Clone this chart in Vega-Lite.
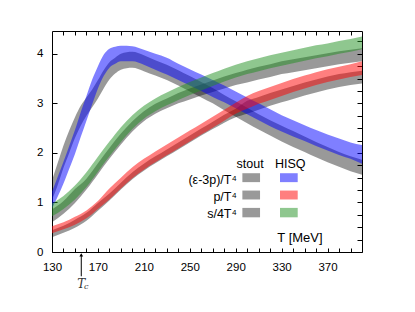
{
"$schema":"https://vega.github.io/schema/vega-lite/v6.json",
"width":310,"height":221,
"autosize":{"type":"none"},
"padding":{"left":52,"top":31,"right":53,"bottom":60},
"background":"white",
"config":{"view":{"stroke":"#000","strokeWidth":1},"font":"Liberation Sans",
"axis":{"domain":false,"grid":false,"tickColor":"#000","tickWidth":1,"labelColor":"#000","labelFont":"Liberation Sans","labelFontSize":11.5,"title":null}},
"datasets":{
"bands":[
{"g":"stout","q":"e3p","T":130,"lo":1.05,"hi":1.45},{"g":"stout","q":"e3p","T":135,"lo":1.35,"hi":1.8},{"g":"stout","q":"e3p","T":140,"lo":1.7,"hi":2.15},{"g":"stout","q":"e3p","T":145,"lo":2.0,"hi":2.45},{"g":"stout","q":"e3p","T":150,"lo":2.3,"hi":2.72},{"g":"stout","q":"e3p","T":155,"lo":2.55,"hi":2.95},{"g":"stout","q":"e3p","T":160,"lo":2.75,"hi":3.12},{"g":"stout","q":"e3p","T":165,"lo":2.92,"hi":3.28},{"g":"stout","q":"e3p","T":170,"lo":3.1,"hi":3.47},{"g":"stout","q":"e3p","T":175,"lo":3.3,"hi":3.67},{"g":"stout","q":"e3p","T":180,"lo":3.48,"hi":3.83},{"g":"stout","q":"e3p","T":185,"lo":3.6,"hi":3.92},{"g":"stout","q":"e3p","T":190,"lo":3.68,"hi":4.0},{"g":"stout","q":"e3p","T":200,"lo":3.72,"hi":4.04},{"g":"stout","q":"e3p","T":210,"lo":3.65,"hi":3.97},{"g":"stout","q":"e3p","T":220,"lo":3.56,"hi":3.87},{"g":"stout","q":"e3p","T":230,"lo":3.47,"hi":3.78},{"g":"stout","q":"e3p","T":240,"lo":3.36,"hi":3.67},{"g":"stout","q":"e3p","T":250,"lo":3.24,"hi":3.55},{"g":"stout","q":"e3p","T":260,"lo":3.12,"hi":3.43},{"g":"stout","q":"e3p","T":270,"lo":3.0,"hi":3.31},{"g":"stout","q":"e3p","T":280,"lo":2.86,"hi":3.17},{"g":"stout","q":"e3p","T":290,"lo":2.73,"hi":3.04},{"g":"stout","q":"e3p","T":300,"lo":2.6,"hi":2.91},{"g":"stout","q":"e3p","T":310,"lo":2.47,"hi":2.78},{"g":"stout","q":"e3p","T":320,"lo":2.35,"hi":2.66},{"g":"stout","q":"e3p","T":330,"lo":2.23,"hi":2.55},{"g":"stout","q":"e3p","T":340,"lo":2.12,"hi":2.44},{"g":"stout","q":"e3p","T":350,"lo":2.02,"hi":2.33},{"g":"stout","q":"e3p","T":360,"lo":1.91,"hi":2.22},{"g":"stout","q":"e3p","T":370,"lo":1.81,"hi":2.12},{"g":"stout","q":"e3p","T":380,"lo":1.72,"hi":2.02},{"g":"stout","q":"e3p","T":390,"lo":1.63,"hi":1.93},{"g":"stout","q":"e3p","T":400,"lo":1.56,"hi":1.86},
{"g":"stout","q":"p","T":130,"lo":0.30,"hi":0.44},{"g":"stout","q":"p","T":140,"lo":0.39,"hi":0.53},{"g":"stout","q":"p","T":150,"lo":0.49,"hi":0.65},{"g":"stout","q":"p","T":160,"lo":0.63,"hi":0.79},{"g":"stout","q":"p","T":170,"lo":0.83,"hi":0.99},{"g":"stout","q":"p","T":180,"lo":1.04,"hi":1.18},{"g":"stout","q":"p","T":190,"lo":1.26,"hi":1.40},{"g":"stout","q":"p","T":200,"lo":1.47,"hi":1.61},{"g":"stout","q":"p","T":210,"lo":1.64,"hi":1.78},{"g":"stout","q":"p","T":220,"lo":1.79,"hi":1.93},{"g":"stout","q":"p","T":230,"lo":1.93,"hi":2.07},{"g":"stout","q":"p","T":240,"lo":2.07,"hi":2.21},{"g":"stout","q":"p","T":250,"lo":2.21,"hi":2.35},{"g":"stout","q":"p","T":260,"lo":2.35,"hi":2.49},{"g":"stout","q":"p","T":270,"lo":2.48,"hi":2.63},{"g":"stout","q":"p","T":280,"lo":2.61,"hi":2.77},{"g":"stout","q":"p","T":290,"lo":2.72,"hi":2.89},{"g":"stout","q":"p","T":300,"lo":2.79,"hi":3.05},{"g":"stout","q":"p","T":310,"lo":2.87,"hi":3.13},{"g":"stout","q":"p","T":320,"lo":2.95,"hi":3.21},{"g":"stout","q":"p","T":330,"lo":3.02,"hi":3.28},{"g":"stout","q":"p","T":340,"lo":3.09,"hi":3.35},{"g":"stout","q":"p","T":350,"lo":3.16,"hi":3.42},{"g":"stout","q":"p","T":360,"lo":3.22,"hi":3.48},{"g":"stout","q":"p","T":370,"lo":3.28,"hi":3.54},{"g":"stout","q":"p","T":380,"lo":3.33,"hi":3.59},{"g":"stout","q":"p","T":390,"lo":3.37,"hi":3.63},{"g":"stout","q":"p","T":400,"lo":3.40,"hi":3.66},
{"g":"stout","q":"s","T":130,"lo":0.60,"hi":0.86},{"g":"stout","q":"s","T":140,"lo":0.77,"hi":1.03},{"g":"stout","q":"s","T":150,"lo":0.99,"hi":1.27},{"g":"stout","q":"s","T":160,"lo":1.26,"hi":1.48},{"g":"stout","q":"s","T":170,"lo":1.57,"hi":1.79},{"g":"stout","q":"s","T":180,"lo":1.88,"hi":2.10},{"g":"stout","q":"s","T":190,"lo":2.17,"hi":2.39},{"g":"stout","q":"s","T":200,"lo":2.43,"hi":2.64},{"g":"stout","q":"s","T":210,"lo":2.64,"hi":2.84},{"g":"stout","q":"s","T":220,"lo":2.79,"hi":2.99},{"g":"stout","q":"s","T":230,"lo":2.90,"hi":3.10},{"g":"stout","q":"s","T":240,"lo":3.00,"hi":3.21},{"g":"stout","q":"s","T":250,"lo":3.08,"hi":3.30},{"g":"stout","q":"s","T":260,"lo":3.16,"hi":3.38},{"g":"stout","q":"s","T":270,"lo":3.23,"hi":3.46},{"g":"stout","q":"s","T":280,"lo":3.30,"hi":3.54},{"g":"stout","q":"s","T":290,"lo":3.37,"hi":3.61},{"g":"stout","q":"s","T":300,"lo":3.42,"hi":3.68},{"g":"stout","q":"s","T":310,"lo":3.48,"hi":3.74},{"g":"stout","q":"s","T":320,"lo":3.53,"hi":3.79},{"g":"stout","q":"s","T":330,"lo":3.59,"hi":3.85},{"g":"stout","q":"s","T":340,"lo":3.63,"hi":3.89},{"g":"stout","q":"s","T":350,"lo":3.67,"hi":3.93},{"g":"stout","q":"s","T":360,"lo":3.71,"hi":3.97},{"g":"stout","q":"s","T":370,"lo":3.75,"hi":4.01},{"g":"stout","q":"s","T":380,"lo":3.79,"hi":4.05},{"g":"stout","q":"s","T":390,"lo":3.82,"hi":4.08},{"g":"stout","q":"s","T":400,"lo":3.85,"hi":4.11},
{"g":"hisq","q":"e3p","T":130,"lo":0.88,"hi":1.22},{"g":"hisq","q":"e3p","T":135,"lo":1.12,"hi":1.52},{"g":"hisq","q":"e3p","T":140,"lo":1.38,"hi":1.82},{"g":"hisq","q":"e3p","T":145,"lo":1.68,"hi":2.14},{"g":"hisq","q":"e3p","T":150,"lo":1.98,"hi":2.46},{"g":"hisq","q":"e3p","T":155,"lo":2.32,"hi":2.82},{"g":"hisq","q":"e3p","T":160,"lo":2.65,"hi":3.15},{"g":"hisq","q":"e3p","T":165,"lo":2.98,"hi":3.48},{"g":"hisq","q":"e3p","T":170,"lo":3.3,"hi":3.75},{"g":"hisq","q":"e3p","T":175,"lo":3.55,"hi":3.98},{"g":"hisq","q":"e3p","T":180,"lo":3.72,"hi":4.1},{"g":"hisq","q":"e3p","T":185,"lo":3.8,"hi":4.14},{"g":"hisq","q":"e3p","T":190,"lo":3.85,"hi":4.16},{"g":"hisq","q":"e3p","T":200,"lo":3.85,"hi":4.15},{"g":"hisq","q":"e3p","T":210,"lo":3.78,"hi":4.08},{"g":"hisq","q":"e3p","T":220,"lo":3.68,"hi":4.0},{"g":"hisq","q":"e3p","T":230,"lo":3.58,"hi":3.92},{"g":"hisq","q":"e3p","T":240,"lo":3.47,"hi":3.8},{"g":"hisq","q":"e3p","T":250,"lo":3.36,"hi":3.69},{"g":"hisq","q":"e3p","T":260,"lo":3.25,"hi":3.58},{"g":"hisq","q":"e3p","T":270,"lo":3.13,"hi":3.47},{"g":"hisq","q":"e3p","T":280,"lo":3.02,"hi":3.36},{"g":"hisq","q":"e3p","T":290,"lo":2.9,"hi":3.24},{"g":"hisq","q":"e3p","T":300,"lo":2.78,"hi":3.12},{"g":"hisq","q":"e3p","T":310,"lo":2.66,"hi":3.0},{"g":"hisq","q":"e3p","T":320,"lo":2.54,"hi":2.88},{"g":"hisq","q":"e3p","T":330,"lo":2.43,"hi":2.76},{"g":"hisq","q":"e3p","T":340,"lo":2.33,"hi":2.66},{"g":"hisq","q":"e3p","T":350,"lo":2.24,"hi":2.56},{"g":"hisq","q":"e3p","T":360,"lo":2.14,"hi":2.46},{"g":"hisq","q":"e3p","T":370,"lo":2.05,"hi":2.37},{"g":"hisq","q":"e3p","T":380,"lo":1.96,"hi":2.29},{"g":"hisq","q":"e3p","T":390,"lo":1.88,"hi":2.21},{"g":"hisq","q":"e3p","T":400,"lo":1.78,"hi":2.16},
{"g":"hisq","q":"p","T":130,"lo":0.38,"hi":0.52},{"g":"hisq","q":"p","T":140,"lo":0.46,"hi":0.60},{"g":"hisq","q":"p","T":150,"lo":0.55,"hi":0.71},{"g":"hisq","q":"p","T":160,"lo":0.68,"hi":0.84},{"g":"hisq","q":"p","T":170,"lo":0.87,"hi":1.03},{"g":"hisq","q":"p","T":180,"lo":1.06,"hi":1.28},{"g":"hisq","q":"p","T":190,"lo":1.28,"hi":1.50},{"g":"hisq","q":"p","T":200,"lo":1.49,"hi":1.71},{"g":"hisq","q":"p","T":210,"lo":1.66,"hi":1.88},{"g":"hisq","q":"p","T":220,"lo":1.81,"hi":2.03},{"g":"hisq","q":"p","T":230,"lo":1.95,"hi":2.17},{"g":"hisq","q":"p","T":240,"lo":2.09,"hi":2.31},{"g":"hisq","q":"p","T":250,"lo":2.23,"hi":2.45},{"g":"hisq","q":"p","T":260,"lo":2.37,"hi":2.59},{"g":"hisq","q":"p","T":270,"lo":2.51,"hi":2.73},{"g":"hisq","q":"p","T":280,"lo":2.65,"hi":2.87},{"g":"hisq","q":"p","T":290,"lo":2.79,"hi":3.01},{"g":"hisq","q":"p","T":300,"lo":2.89,"hi":3.15},{"g":"hisq","q":"p","T":310,"lo":2.99,"hi":3.25},{"g":"hisq","q":"p","T":320,"lo":3.07,"hi":3.33},{"g":"hisq","q":"p","T":330,"lo":3.15,"hi":3.41},{"g":"hisq","q":"p","T":340,"lo":3.23,"hi":3.49},{"g":"hisq","q":"p","T":350,"lo":3.30,"hi":3.56},{"g":"hisq","q":"p","T":360,"lo":3.37,"hi":3.63},{"g":"hisq","q":"p","T":370,"lo":3.43,"hi":3.69},{"g":"hisq","q":"p","T":380,"lo":3.48,"hi":3.74},{"g":"hisq","q":"p","T":390,"lo":3.53,"hi":3.79},{"g":"hisq","q":"p","T":400,"lo":3.57,"hi":3.85},
{"g":"hisq","q":"s","T":130,"lo":0.72,"hi":0.98},{"g":"hisq","q":"s","T":140,"lo":0.87,"hi":1.13},{"g":"hisq","q":"s","T":150,"lo":1.06,"hi":1.34},{"g":"hisq","q":"s","T":160,"lo":1.31,"hi":1.61},{"g":"hisq","q":"s","T":170,"lo":1.62,"hi":1.92},{"g":"hisq","q":"s","T":180,"lo":1.93,"hi":2.23},{"g":"hisq","q":"s","T":190,"lo":2.22,"hi":2.52},{"g":"hisq","q":"s","T":200,"lo":2.48,"hi":2.76},{"g":"hisq","q":"s","T":210,"lo":2.69,"hi":2.95},{"g":"hisq","q":"s","T":220,"lo":2.84,"hi":3.10},{"g":"hisq","q":"s","T":230,"lo":2.96,"hi":3.22},{"g":"hisq","q":"s","T":240,"lo":3.07,"hi":3.33},{"g":"hisq","q":"s","T":250,"lo":3.17,"hi":3.43},{"g":"hisq","q":"s","T":260,"lo":3.26,"hi":3.52},{"g":"hisq","q":"s","T":270,"lo":3.35,"hi":3.61},{"g":"hisq","q":"s","T":280,"lo":3.44,"hi":3.70},{"g":"hisq","q":"s","T":290,"lo":3.52,"hi":3.78},{"g":"hisq","q":"s","T":300,"lo":3.59,"hi":3.85},{"g":"hisq","q":"s","T":310,"lo":3.65,"hi":3.91},{"g":"hisq","q":"s","T":320,"lo":3.71,"hi":3.97},{"g":"hisq","q":"s","T":330,"lo":3.76,"hi":4.02},{"g":"hisq","q":"s","T":340,"lo":3.81,"hi":4.07},{"g":"hisq","q":"s","T":350,"lo":3.86,"hi":4.12},{"g":"hisq","q":"s","T":360,"lo":3.91,"hi":4.17},{"g":"hisq","q":"s","T":370,"lo":3.95,"hi":4.21},{"g":"hisq","q":"s","T":380,"lo":4.00,"hi":4.26},{"g":"hisq","q":"s","T":390,"lo":4.04,"hi":4.30},{"g":"hisq","q":"s","T":400,"lo":4.09,"hi":4.35}
],
"swatch":[
{"g":"stout","q":"e3p","x1":295.8,"x2":311.2,"y1":1.41,"y2":1.59},
{"g":"stout","q":"p","x1":295.8,"x2":311.2,"y1":1.06,"y2":1.24},
{"g":"stout","q":"s","x1":295.8,"x2":311.2,"y1":0.70,"y2":0.89},
{"g":"hisq","q":"e3p","x1":328.6,"x2":344.0,"y1":1.41,"y2":1.59},
{"g":"hisq","q":"p","x1":328.6,"x2":344.0,"y1":1.06,"y2":1.24},
{"g":"hisq","q":"s","x1":328.6,"x2":344.0,"y1":0.70,"y2":0.89}
]
},
"resolve":{"axis":{"x":"independent","y":"independent"}},
"layer":[
{"data":{"name":"bands"},"transform":[{"filter":"datum.g=='stout'"}],
 "mark":{"type":"area","interpolate":"monotone","color":"#000","opacity":0.4},
 "encoding":{
  "x":{"field":"T","type":"quantitative","scale":{"domain":[130,400],"nice":false,"zero":false},
   "axis":{"orient":"bottom","values":[130,140,150,160,170,180,190,200,210,220,230,240,250,260,270,280,290,300,310,320,330,340,350,360,370,380,390,400],"labelExpr":"(datum.value-130)%40==0 && datum.value<400 ? datum.label : ''","tickSize":-4,"labelPadding":13,"labelDx":3,"labelFlush":false,"labelOverlap":false}},
  "y":{"field":"lo","type":"quantitative","scale":{"domain":[0,4.46],"nice":false},
   "axis":{"orient":"left","values":[0,0.25,0.5,0.75,1,1.25,1.5,1.75,2,2.25,2.5,2.75,3,3.25,3.5,3.75,4,4.25],"format":"d","labelExpr":"datum.value%1==0 ? datum.label : ''","tickSize":-5,"labelPadding":14,"labelDy":3,"labelOverlap":false}},
  "y2":{"field":"hi"},
  "detail":{"field":"q"}}},
{"data":{"name":"bands"},"transform":[{"filter":"datum.g=='hisq'"}],
 "mark":{"type":"area","interpolate":"monotone","opacity":0.5},
 "encoding":{
  "x":{"field":"T","type":"quantitative","axis":{"orient":"top","values":[140,150,160,170,180,190,200,210,220,230,240,250,260,270,280,290,300,310,320,330,340,350,360,370,380,390],"labels":false,"tickSize":-4}},
  "y":{"field":"lo","type":"quantitative","axis":{"orient":"right","values":[0.25,0.5,0.75,1,1.25,1.5,1.75,2,2.25,2.5,2.75,3,3.25,3.5,3.75,4,4.25],"labels":false,"tickSize":-5}},
  "y2":{"field":"hi"},
  "color":{"field":"q","type":"nominal","scale":{"domain":["e3p","p","s"],"range":["#0000ff","#ff0000","#1f8f1f"]},"legend":null}}},
{"data":{"name":"swatch"},"transform":[{"filter":"datum.g=='stout'"}],
 "mark":{"type":"rect","color":"#000","opacity":0.4},
 "encoding":{"x":{"field":"x1","type":"quantitative","axis":null},"x2":{"field":"x2"},"y":{"field":"y1","type":"quantitative","axis":null},"y2":{"field":"y2"}}},
{"data":{"name":"swatch"},"transform":[{"filter":"datum.g=='hisq'"}],
 "mark":{"type":"rect","opacity":0.5},
 "encoding":{"x":{"field":"x1","type":"quantitative","axis":null},"x2":{"field":"x2"},"y":{"field":"y1","type":"quantitative","axis":null},"y2":{"field":"y2"},
  "color":{"field":"q","type":"nominal","legend":null}}},
{"data":{"values":[{"t":"stout","T":302.5,"y":1.78},{"t":"HISQ","T":337.5,"y":1.78}]},
 "mark":{"type":"text","align":"center","baseline":"middle","fontSize":12.5,"font":"Liberation Sans","color":"#000"},
 "encoding":{"x":{"field":"T","type":"quantitative","axis":null},"y":{"field":"y","type":"quantitative","axis":null},"text":{"field":"t"}}},
{"data":{"values":[{"t":"(ε-3p)/T⁴","T":291,"y":1.46},{"t":"p/T⁴","T":291,"y":1.12},{"t":"s/4T⁴","T":291,"y":0.77}]},
 "mark":{"type":"text","align":"right","baseline":"middle","fontSize":12.5,"font":"Liberation Sans","color":"#000"},
 "encoding":{"x":{"field":"T","type":"quantitative","axis":null},"y":{"field":"y","type":"quantitative","axis":null},"text":{"field":"t"}}},
{"data":{"values":[{"t":"T [MeV]","T":346,"y":0.28}]},
 "mark":{"type":"text","align":"center","baseline":"middle","fontSize":13,"font":"Liberation Sans","color":"#000"},
 "encoding":{"x":{"field":"T","type":"quantitative","axis":null},"y":{"field":"y","type":"quantitative","axis":null},"text":{"field":"t"}}},
{"data":{"values":[{"T":155.5,"y":-0.49,"y2":-0.05}]},
 "mark":{"type":"rule","color":"#000","strokeWidth":1},
 "encoding":{"x":{"field":"T","type":"quantitative","axis":null},"y":{"field":"y","type":"quantitative","axis":null},"y2":{"field":"y2"}}},
{"data":{"values":[{"T":155.5,"y":-0.06}]},
 "mark":{"type":"point","shape":"triangle-up","filled":true,"color":"#000","size":14,"opacity":1},
 "encoding":{"x":{"field":"T","type":"quantitative","axis":null},"y":{"field":"y","type":"quantitative","axis":null}}},
{"data":{"values":[{"t":"T","T":155.5,"y":-0.64}]},
 "mark":{"type":"text","align":"center","baseline":"middle","fontSize":12,"font":"DejaVu Serif","fontStyle":"italic","color":"#333"},
 "encoding":{"x":{"field":"T","type":"quantitative","axis":null},"y":{"field":"y","type":"quantitative","axis":null},"text":{"field":"t"}}},
{"data":{"values":[{"t":"c","T":159.8,"y":-0.71}]},
 "mark":{"type":"text","align":"center","baseline":"middle","fontSize":8,"font":"DejaVu Serif","fontStyle":"italic","color":"#333"},
 "encoding":{"x":{"field":"T","type":"quantitative","axis":null},"y":{"field":"y","type":"quantitative","axis":null},"text":{"field":"t"}}}
]
}
